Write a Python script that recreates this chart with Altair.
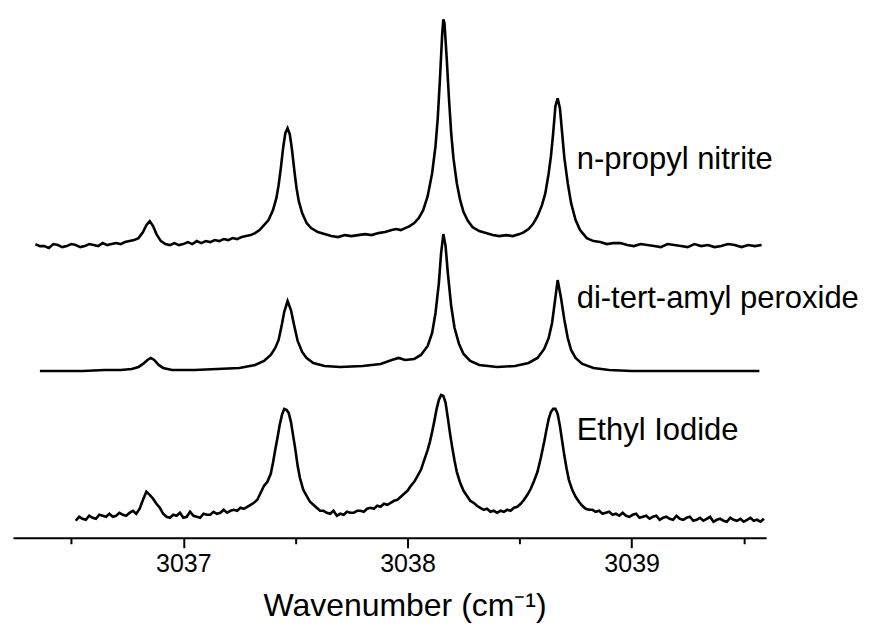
import altair as alt
import pandas as pd

# ---- n-propyl nitrite (top trace) ----
wn_top = [3036.34, 3036.36, 3036.38, 3036.40, 3036.42, 3036.44, 3036.46, 3036.48, 3036.50, 3036.52,
          3036.54, 3036.56, 3036.58, 3036.60, 3036.62, 3036.64, 3036.66, 3036.68, 3036.70, 3036.72,
          3036.74, 3036.76, 3036.78, 3036.80, 3036.82, 3036.835, 3036.85, 3036.865, 3036.88, 3036.90,
          3036.92, 3036.94, 3036.96, 3036.98, 3037.00, 3037.02, 3037.04, 3037.06, 3037.08, 3037.10,
          3037.12, 3037.14, 3037.16, 3037.18, 3037.20, 3037.22, 3037.24, 3037.26, 3037.28, 3037.30,
          3037.32, 3037.34, 3037.36, 3037.38, 3037.40, 3037.415, 3037.425, 3037.435, 3037.445, 3037.455,
          3037.465, 3037.475, 3037.485, 3037.495, 3037.505, 3037.515, 3037.53, 3037.55, 3037.57, 3037.60,
          3037.63, 3037.66, 3037.69, 3037.72, 3037.75, 3037.78, 3037.81, 3037.84, 3037.87, 3037.90,
          3037.93, 3037.95, 3037.97, 3037.99, 3038.01, 3038.03, 3038.05, 3038.07, 3038.09, 3038.11,
          3038.125, 3038.135, 3038.145, 3038.155, 3038.16, 3038.165, 3038.175, 3038.185, 3038.195, 3038.205,
          3038.22, 3038.235, 3038.25, 3038.27, 3038.29, 3038.32, 3038.35, 3038.38, 3038.41, 3038.44,
          3038.47, 3038.50, 3038.52, 3038.54, 3038.56, 3038.58, 3038.60, 3038.615, 3038.63, 3038.64,
          3038.65, 3038.66, 3038.67, 3038.68, 3038.69, 3038.70, 3038.715, 3038.73, 3038.75, 3038.77,
          3038.80, 3038.83, 3038.86, 3038.89, 3038.92, 3038.95, 3038.98, 3039.01, 3039.04, 3039.07,
          3039.10, 3039.13, 3039.16, 3039.19, 3039.22, 3039.25, 3039.28, 3039.31, 3039.34, 3039.37,
          3039.40, 3039.43, 3039.46, 3039.49, 3039.52, 3039.55, 3039.58]
sig_top = [294, 292, 292, 290, 294, 293, 291, 292, 294, 293,
           291, 292, 294, 293, 292, 295, 293, 294, 295, 294,
           296, 297, 298, 300, 306, 313, 317, 312, 304, 297,
           294, 293, 295, 293, 294, 296, 294, 297, 295, 297,
           296, 298, 297, 299, 298, 300, 299, 301, 302, 303,
           305, 308, 313, 318, 328, 340, 353, 370, 390, 405,
           410, 404, 388, 368, 350, 337, 325, 315, 310, 306,
           304, 302, 301, 303, 302, 303, 304, 303, 305, 306,
           308, 309, 308, 310, 312, 315, 320, 328, 342, 365,
           392, 420, 460, 505, 519, 515, 480, 440, 405, 380,
           355, 338, 326, 317, 311, 307, 305, 303, 302, 303,
           302, 304, 306, 309, 314, 322, 333, 345, 365, 382,
           405, 432, 440, 430, 405, 380, 355, 335, 318, 308,
           300, 297, 296, 294, 295, 295, 293, 292, 294, 293,
           292, 291, 294, 293, 292, 291, 294, 292, 293, 291,
           292, 294, 293, 291, 293, 292, 293]

# ---- di-tert-amyl peroxide (middle trace) ----
wn_mid = [3036.36, 3036.45, 3036.55, 3036.65, 3036.72, 3036.77, 3036.80, 3036.82, 3036.84, 3036.855,
          3036.87, 3036.89, 3036.91, 3036.95, 3037.05, 3037.15, 3037.25, 3037.32, 3037.36, 3037.39,
          3037.41, 3037.425, 3037.44, 3037.45, 3037.465, 3037.48, 3037.495, 3037.51, 3037.53, 3037.55,
          3037.58, 3037.63, 3037.70, 3037.80, 3037.88, 3037.93, 3037.96, 3037.99, 3038.03, 3038.06,
          3038.09, 3038.11, 3038.125, 3038.14, 3038.15, 3038.16, 3038.17, 3038.18, 3038.195, 3038.21,
          3038.23, 3038.25, 3038.28, 3038.32, 3038.40, 3038.48, 3038.54, 3038.58, 3038.61, 3038.63,
          3038.645, 3038.655, 3038.67, 3038.685, 3038.70, 3038.715, 3038.73, 3038.75, 3038.78, 3038.83,
          3038.90, 3039.00, 3039.20, 3039.40, 3039.57]
sig_mid = [167, 167, 167, 168, 168, 169, 171, 174, 178, 180,
           178, 173, 170, 168, 168, 169, 170, 173, 177, 183,
           190, 198, 214, 226, 237, 228, 212, 197, 186, 180,
           175, 172, 171, 172, 174, 178, 180, 178, 179, 183,
           192, 205, 225, 255, 285, 304, 292, 265, 232, 210,
           194, 184, 177, 173, 171, 172, 175, 180, 189, 200,
           215, 232, 258, 240, 218, 200, 188, 180, 174, 170,
           168, 167, 167, 167, 167]

# ---- Ethyl Iodide (bottom trace) ----
wn_bot = [3036.52, 3036.535, 3036.55, 3036.565, 3036.58, 3036.595, 3036.61, 3036.625, 3036.64, 3036.655,
          3036.67, 3036.685, 3036.70, 3036.715, 3036.73, 3036.745, 3036.76, 3036.775, 3036.79, 3036.805,
          3036.82, 3036.835, 3036.85, 3036.865, 3036.88, 3036.895, 3036.91, 3036.925, 3036.94, 3036.955,
          3036.97, 3036.985, 3037.00, 3037.015, 3037.03, 3037.045, 3037.06, 3037.075, 3037.09, 3037.105,
          3037.12, 3037.135, 3037.15, 3037.165, 3037.18, 3037.195, 3037.21, 3037.225, 3037.24, 3037.255,
          3037.27, 3037.285, 3037.30, 3037.315, 3037.33, 3037.345, 3037.36, 3037.375, 3037.39, 3037.40,
          3037.41, 3037.42, 3037.43, 3037.44, 3037.45, 3037.46, 3037.47, 3037.48, 3037.49, 3037.50,
          3037.51, 3037.52, 3037.535, 3037.55, 3037.565, 3037.58, 3037.595, 3037.61, 3037.625, 3037.64,
          3037.655, 3037.67, 3037.685, 3037.70, 3037.715, 3037.73, 3037.745, 3037.76, 3037.775, 3037.79,
          3037.805, 3037.82, 3037.835, 3037.85, 3037.865, 3037.88, 3037.895, 3037.91, 3037.925, 3037.94,
          3037.955, 3037.97, 3037.985, 3038.00, 3038.015, 3038.03, 3038.045, 3038.06, 3038.075, 3038.09,
          3038.10, 3038.11, 3038.12, 3038.13, 3038.14, 3038.15, 3038.16, 3038.17, 3038.18, 3038.19,
          3038.20, 3038.21, 3038.22, 3038.235, 3038.25, 3038.265, 3038.28, 3038.295, 3038.31, 3038.325,
          3038.34, 3038.355, 3038.37, 3038.385, 3038.40, 3038.415, 3038.43, 3038.445, 3038.46, 3038.475,
          3038.49, 3038.505, 3038.52, 3038.535, 3038.55, 3038.565, 3038.58, 3038.595, 3038.61, 3038.62,
          3038.63, 3038.64, 3038.65, 3038.66, 3038.67, 3038.68, 3038.69, 3038.70, 3038.71, 3038.72,
          3038.735, 3038.75, 3038.765, 3038.78, 3038.795, 3038.81, 3038.825, 3038.84, 3038.855, 3038.87,
          3038.885, 3038.90, 3038.915, 3038.93, 3038.945, 3038.96, 3038.975, 3038.99, 3039.005, 3039.02,
          3039.035, 3039.05, 3039.065, 3039.08, 3039.095, 3039.11, 3039.125, 3039.14, 3039.155, 3039.17,
          3039.185, 3039.20, 3039.215, 3039.23, 3039.245, 3039.26, 3039.275, 3039.29, 3039.305, 3039.32,
          3039.335, 3039.35, 3039.365, 3039.38, 3039.395, 3039.41, 3039.425, 3039.44, 3039.455, 3039.47,
          3039.485, 3039.50, 3039.515, 3039.53, 3039.545, 3039.56, 3039.575, 3039.59]
sig_bot = [17, 21, 19, 18, 22, 20, 19, 23, 22, 21,
           24, 21, 22, 25, 23, 22, 25, 27, 24, 29,
           38, 46, 43, 39, 34, 30, 24, 21, 20, 23,
           22, 25, 20, 21, 26, 22, 21, 20, 24, 23,
           23, 26, 24, 25, 28, 25, 27, 28, 27, 30,
           29, 31, 33, 35, 38, 45, 52, 56, 64, 75,
           88, 100, 113, 123, 129, 128, 125, 116, 102, 88,
           72, 60, 48, 42, 36, 33, 30, 27, 27, 25,
           24, 27, 22, 24, 23, 26, 25, 25, 27, 27,
           26, 29, 30, 29, 32, 31, 34, 33, 35, 37,
           38, 41, 44, 47, 52, 56, 62, 68, 78, 88,
           96, 106, 117, 129, 138, 143, 142, 135, 120, 104,
           90, 77, 66, 55, 47, 42, 37, 35, 32, 30,
           28, 29, 26, 27, 25, 27, 26, 28, 27, 30,
           31, 34, 38, 43, 49, 57, 66, 80, 96, 108,
           119, 126, 129, 129, 124, 112, 97, 82, 69, 58,
           48, 41, 36, 32, 29, 28, 28, 26, 27, 24,
           25, 26, 23, 24, 22, 25, 22, 21, 23, 24,
           20, 21, 22, 19, 21, 22, 18, 20, 21, 19,
           18, 22, 19, 18, 20, 21, 17, 18, 20, 17,
           19, 21, 16, 18, 19, 17, 16, 20, 18, 17,
           19, 16, 18, 20, 17, 18, 16, 19]

label_names = ["n-propyl nitrite", "di-tert-amyl peroxide", "Ethyl Iodide"]
label_wn = [3038.755, 3038.755, 3038.755]
label_sig = [369, 230, 98]

tick_values = [3036.5, 3037.0, 3037.5, 3038.0, 3038.5, 3039.0, 3039.5]

rows = []
for name, wns, sigs in [(label_names[0], wn_top, sig_top),
                        (label_names[1], wn_mid, sig_mid),
                        (label_names[2], wn_bot, sig_bot)]:
    for w, s in zip(wns, sigs):
        rows.append({"series": name, "wn": w, "signal": s})
df = pd.DataFrame(rows)
df_lab = pd.DataFrame({"name": label_names, "wn": label_wn, "signal": label_sig})

FONT = "Liberation Sans"

x_scale = alt.Scale(domain=[3036.24, 3039.6], nice=False, zero=False)
y_scale = alt.Scale(domain=[0, 520], nice=False, zero=False)

x_axis = alt.Axis(
    values=tick_values,
    labelExpr="datum.value % 1 === 0 ? datum.label : ''",
    format=".0f",
    tickSize={"condition": {"test": "datum.value % 1 === 0", "value": 10}, "value": 6},
    tickWidth=2, domainWidth=2, domainColor="black", tickColor="black",
    labelColor="black", labelFont=FONT, labelFontSize=25, labelPadding=4,
    title="Wavenumber (cm⁻¹)", titleFont=FONT, titleFontSize=32,
    titleFontWeight="normal", titleColor="black", titlePadding=14, titleX=392,
    grid=False, labelFlush=False, labelOverlap=False,
)

lines = alt.Chart(df).mark_line(color="black", strokeWidth=2.6).encode(
    x=alt.X("wn:Q", scale=x_scale, axis=x_axis),
    y=alt.Y("signal:Q", scale=y_scale, axis=None),
    detail="series:N",
    order="wn:Q",
)

labels = alt.Chart(df_lab).mark_text(
    align="left", baseline="alphabetic", font=FONT, fontSize=31, color="black"
).encode(
    x=alt.X("wn:Q", scale=x_scale),
    y=alt.Y("signal:Q", scale=y_scale),
    text="name:N",
)

chart = alt.layer(lines, labels).properties(width=754, height=520).configure_view(stroke=None)

chart.save("out.html", embed_options={"renderer": "svg", "actions": False})
